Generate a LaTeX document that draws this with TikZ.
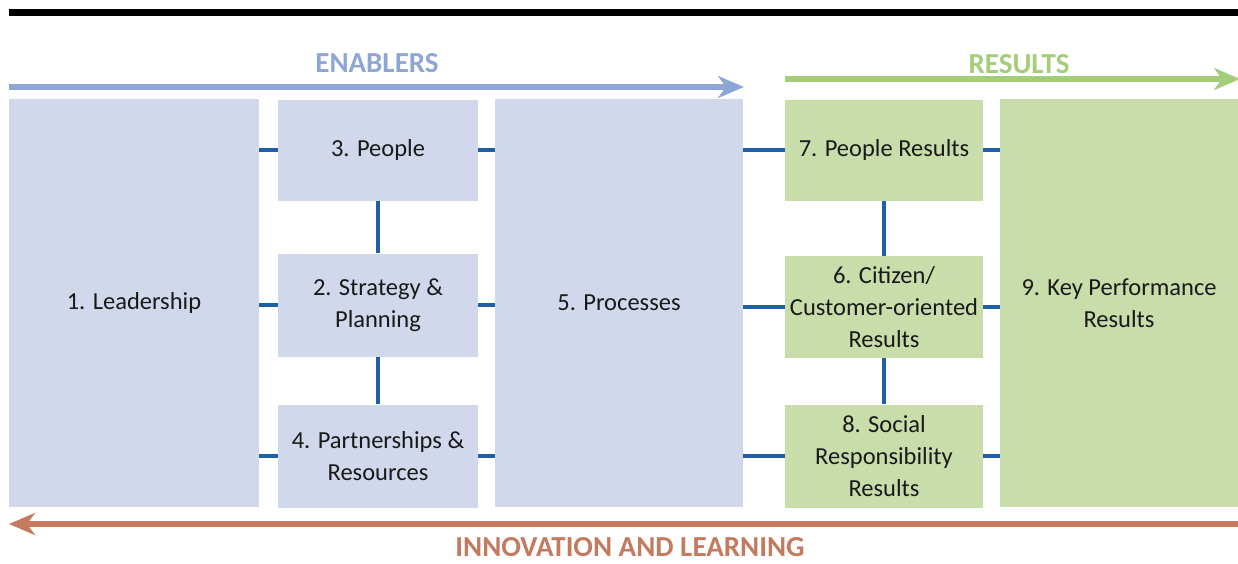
\documentclass[tikz,border=0pt]{standalone}
\usepackage{fontspec}
\setmainfont{Carlito}
\usetikzlibrary{arrows.meta}

\definecolor{enablerfill}{HTML}{D2D8EB}
\definecolor{resultfill}{HTML}{C8DDAA}
\definecolor{linkblue}{HTML}{1F5FA8}
\definecolor{enablerline}{HTML}{8EA6D6}
\definecolor{resultline}{HTML}{A5CC78}
\definecolor{learnline}{HTML}{C47A5E}

\begin{document}
\begin{tikzpicture}[x=1pt,y=-1pt,
  crit/.style={inner sep=0pt, align=center, text=black!90, font=\fontsize{24.5}{32}\selectfont},
  enabler/.style={crit, fill=enablerfill},
  result/.style={crit, fill=resultfill},
  heading/.style={inner sep=0pt, font=\fontsize{29}{30}\selectfont\bfseries},
  flow/.style={line width=6pt, -{Stealth[length=26pt, width=22pt, inset=8pt]}},
  link/.style={linkblue, line width=4pt}]
\useasboundingbox (0,0) rectangle (1238,563);
\draw[line width=7pt] (9,12) -- (1238,12);
% enablers
\node[enabler, minimum width=250pt, minimum height=408pt] (lead) at (134,303) {1. Leadership};
\node[enabler, minimum width=200pt, minimum height=101pt] (ppl) at (378,150) {3. People};
\node[enabler, minimum width=200pt, minimum height=103pt] (strat) at (378,305) {2. Strategy \&\\Planning};
\node[enabler, minimum width=200pt, minimum height=103pt] (part) at (378,456) {4. Partnerships \&\\Resources};
\node[enabler, minimum width=248pt, minimum height=408pt] (proc) at (619,303) {5. Processes};
% results
\node[result, minimum width=198pt, minimum height=101pt] (pres) at (884,150) {7. People Results};
\node[result, minimum width=198pt, minimum height=102pt] (cres) at (884,307) {6. Citizen/\\Customer-oriented\\Results};
\node[result, minimum width=198pt, minimum height=103pt] (sres) at (884,456) {8. Social\\Responsibility\\Results};
\node[result, minimum width=238pt, minimum height=408pt] (kpr) at (1119,303) {9. Key Performance\\Results};
% links between criteria
\foreach \m in {ppl,strat,part}
  \draw[link] (lead.east |- \m) -- (\m.west) (\m.east) -- (proc.west |- \m);
\foreach \m in {pres,cres,sres}
  \draw[link] (proc.east |- \m) -- (\m.west) (\m.east) -- (kpr.west |- \m);
\draw[link] (ppl.south) -- (strat.north) (strat.south) -- (part.north);
\draw[link] (pres.south) -- (cres.north) (cres.south) -- (sres.north);
% arrows and headings
\node[heading, text=enablerline] (en) at (377,63) {ENABLERS};
\node[heading, text=resultline] (re) at (1019,64) {RESULTS};
\node[heading, text=learnline] (il) at (630,547) {INNOVATION AND LEARNING};
\coordinate (ena) at (9,87); \coordinate (enb) at (744,87);
\coordinate (rea) at (785,79); \coordinate (reb) at (1240,79);
\coordinate (ila) at (1240,524); \coordinate (ilb) at (9,524);
\draw[flow, enablerline] (ena) -- (enb);
\draw[flow, resultline] (rea) -- (reb);
\draw[flow, learnline] (ila) -- (ilb);
\end{tikzpicture}
\end{document}
